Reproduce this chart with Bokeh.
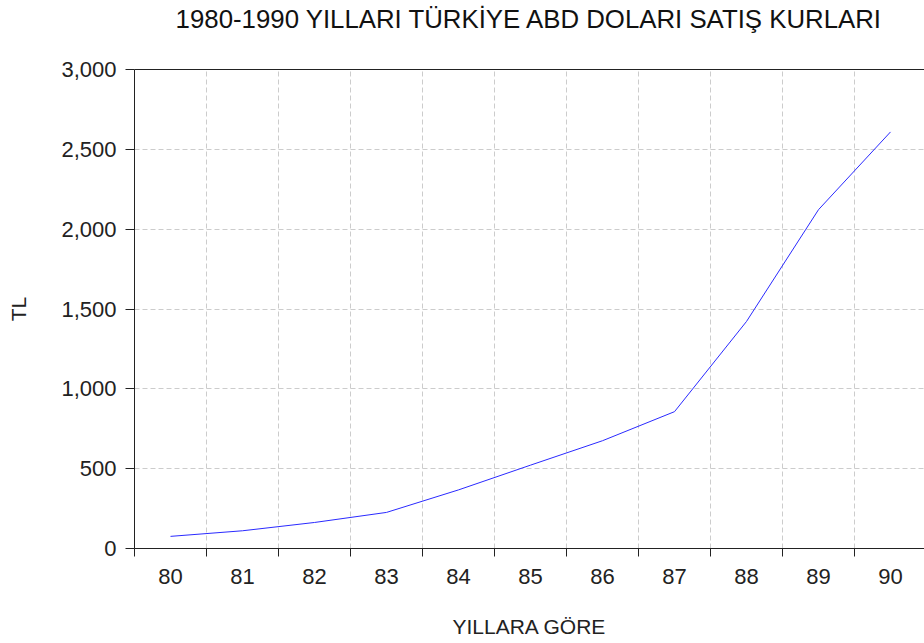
from bokeh.plotting import figure
from bokeh.models import FixedTicker, NumeralTickFormatter, LinearAxis, Range1d
from bokeh.embed import file_html
from bokeh.resources import INLINE

# Data: Turkish lira per US dollar (selling rate), yearly
years = [80, 81, 82, 83, 84, 85, 86, 87, 88, 89, 90]
rates = [76, 111, 163, 226, 367, 522, 675, 857, 1422, 2122, 2609]
y_ticks = [0, 500, 1000, 1500, 2000, 2500, 3000]

title_text = "1980-1990 YILLARI TÜRKİYE ABD DOLARI SATIŞ KURLARI"
x_label = "YILLARA GÖRE"
y_label = "TL"

FONT = "Liberation Sans"
boundaries = [y - 0.5 for y in years] + [years[-1] + 0.5]

W = 924
LEFT = 134
p = figure(width=W, height=640, output_backend="svg", toolbar_location=None,
           x_range=Range1d(years[0] - 0.5, years[0] - 0.5 + (W - LEFT) / 72),
           y_range=Range1d(0, 3000),
           min_border_left=LEFT, min_border_right=0, min_border_top=69,
           min_border_bottom=0)

p.outline_line_color = None

p.line(years, rates, line_color="#2a2aff", line_width=1)

# top frame line, carrying the chart title centred over the plot area
top = LinearAxis(ticker=FixedTicker(ticks=[]), major_label_text_font_size="0px",
                 axis_line_color="#222222", major_tick_line_color=None,
                 minor_tick_line_color=None, major_label_standoff=0)
top.axis_label = title_text
top.axis_label_text_font = FONT
top.axis_label_text_font_size = "25.8px"
top.axis_label_text_font_style = "normal"
top.axis_label_text_color = "#111111"
top.axis_label_text_line_height = 1.0
top.axis_label_standoff = 37
p.add_layout(top, "above")

xa = p.below[0]
xa.ticker = FixedTicker(ticks=years, minor_ticks=boundaries)
xa.major_tick_line_color = None
xa.major_tick_out = 8
xa.minor_tick_out = 8
xa.minor_tick_in = 0
xa.minor_tick_line_color = "#222222"
xa.axis_line_color = "#222222"
xa.major_label_text_font = FONT
xa.major_label_text_font_size = "22px"
xa.major_label_text_color = "#222222"
xa.major_label_standoff = 12
xa.axis_label = x_label
xa.axis_label_text_font = FONT
xa.axis_label_text_font_size = "21px"
xa.axis_label_text_font_style = "normal"
xa.axis_label_text_color = "#222222"
xa.axis_label_standoff = 28

ya = p.left[0]
ya.ticker = FixedTicker(ticks=y_ticks)
ya.formatter = NumeralTickFormatter(format="0,0")
ya.major_tick_out = 9
ya.major_tick_in = 0
ya.minor_tick_line_color = None
ya.major_tick_line_color = "#222222"
ya.axis_line_color = "#222222"
ya.major_label_text_font = FONT
ya.major_label_text_font_size = "22px"
ya.major_label_text_color = "#222222"
ya.major_label_standoff = 9
ya.axis_label = y_label
ya.axis_label_text_font = FONT
ya.axis_label_text_font_size = "21px"
ya.axis_label_text_font_style = "normal"
ya.axis_label_text_color = "#222222"
ya.axis_label_standoff = 28

p.xgrid.ticker = FixedTicker(ticks=boundaries)
p.xgrid.grid_line_color = "#cccccc"
p.xgrid.grid_line_dash = "5 3"
p.ygrid.grid_line_color = "#cccccc"
p.ygrid.grid_line_dash = "5 3"

open("out.html", "w").write(file_html(p, INLINE))
